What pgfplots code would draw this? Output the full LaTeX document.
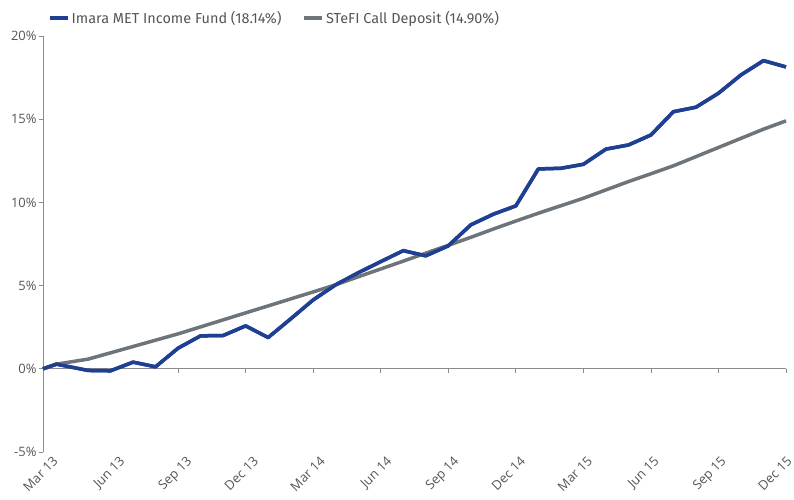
\documentclass[border=0pt]{standalone}
\usepackage{pgfplots}
\pgfplotsset{compat=1.18}
\usepackage{pgfplotstable}
\usepackage{fontspec}
\setmainfont{Open Sans}
\newfontfamily\legendfont{Fira Sans}
\definecolor{fundblue}{HTML}{1F3F93}
\definecolor{stefigray}{HTML}{6D747A}
\definecolor{axisgray}{HTML}{8C8C8C}
\definecolor{labelgray}{HTML}{555555}

\pgfplotstableread{
x y
0 0
0.6 0.28
2 -0.10
3 -0.12
4 0.40
5 0.12
6 1.24
7 1.98
8 2.00
9 2.58
10 1.88
11 3.00
12 4.14
13 5.05
14 5.77
15 6.44
16 7.10
17 6.79
18 7.39
19 8.65
20 9.29
21 9.79
22 12.01
23 12.05
24 12.29
25 13.20
26 13.45
27 14.05
28 15.45
29 15.72
30 16.56
31 17.66
32 18.52
33 18.14
}\fundtable

\pgfplotstableread{
x y
0 0
0.6 0.28
2 0.58
3 0.96
4 1.34
5 1.72
6 2.10
7 2.52
8 2.94
9 3.36
10 3.78
11 4.20
12 4.62
13 5.05
14 5.53
15 6.00
16 6.47
17 6.95
18 7.42
19 7.90
20 8.40
21 8.88
22 9.35
23 9.80
24 10.25
25 10.75
26 11.25
27 11.72
28 12.20
29 12.75
30 13.30
31 13.85
32 14.40
33 14.90
}\stefitable

\begin{document}
\begin{tikzpicture}
\useasboundingbox (-43bp,-48bp) rectangle (751bp,452bp);
\begin{axis}[
  at={(0,0)}, anchor=south west,
  scale only axis, width=743bp, height=416bp,
  xmin=0, xmax=33, ymin=-5, ymax=20,
  axis x line*=bottom, axis y line*=left,
  x axis line style={draw=none},
  y axis line style={axisgray, line width=0.8bp},
  xtick={0.40,3.367,6.334,9.30,12.27,15.23,18.20,21.17,24.14,27.10,30.07,33.0},
  xticklabels={Mar 13, Jun 13, Sep 13, Dec 13, Mar 14, Jun 14, Sep 14, Dec 14, Mar 15, Jun 15, Sep 15, Dec 15},
  x tick style={draw=none},
  ytick={-5,0,5,10,15,20},
  yticklabel={\pgfmathprintnumber{\tick}\%},
  y tick style={axisgray, line width=0.8bp},
  tick align=outside,
  major tick length=4bp,
  /pgf/number format/assume math mode=true,
  yticklabel style={font=\fontsize{13}{13}\selectfont, text=labelgray, xshift=1bp},
  xticklabel style={font=\fontsize{13}{13}\selectfont, text=labelgray, yshift=2bp, rotate=45, anchor=north east, inner sep=1bp},
  clip=false,
  legend columns=2,
  legend cell align=left,
  legend style={at={(axis description cs:0,1)}, anchor=west, xshift=2bp, yshift=18bp,
    draw=none, fill=none, font=\legendfont\fontsize{14.5}{14.5}\selectfont, text=labelgray,
    /tikz/every even column/.append style={column sep=19bp}},
  legend image code/.code={\draw[#1] (0bp,0bp) -- (18bp,0bp);},
]
\draw[axisgray, line width=0.8bp] (axis cs:0,0) -- (axis cs:33,0);
\pgfplotsinvokeforeach{3,6,...,33}{\draw[axisgray, line width=0.8bp] (axis cs:#1,0) -- ([yshift=-4bp]axis cs:#1,0);}
\addplot[fundblue, line width=3.5bp, line join=round] table[x=x,y=y]{\fundtable};
\addlegendentry{Imara MET Income Fund (18.14\%)}
\addplot[stefigray, line width=3.5bp, line join=round] table[x=x,y=y]{\stefitable};
\addlegendentry{STeFI Call Deposit (14.90\%)}
\addplot[fundblue, line width=3.5bp, line join=round, forget plot] table[x=x,y=y]{\fundtable};
\end{axis}
\end{tikzpicture}
\end{document}
